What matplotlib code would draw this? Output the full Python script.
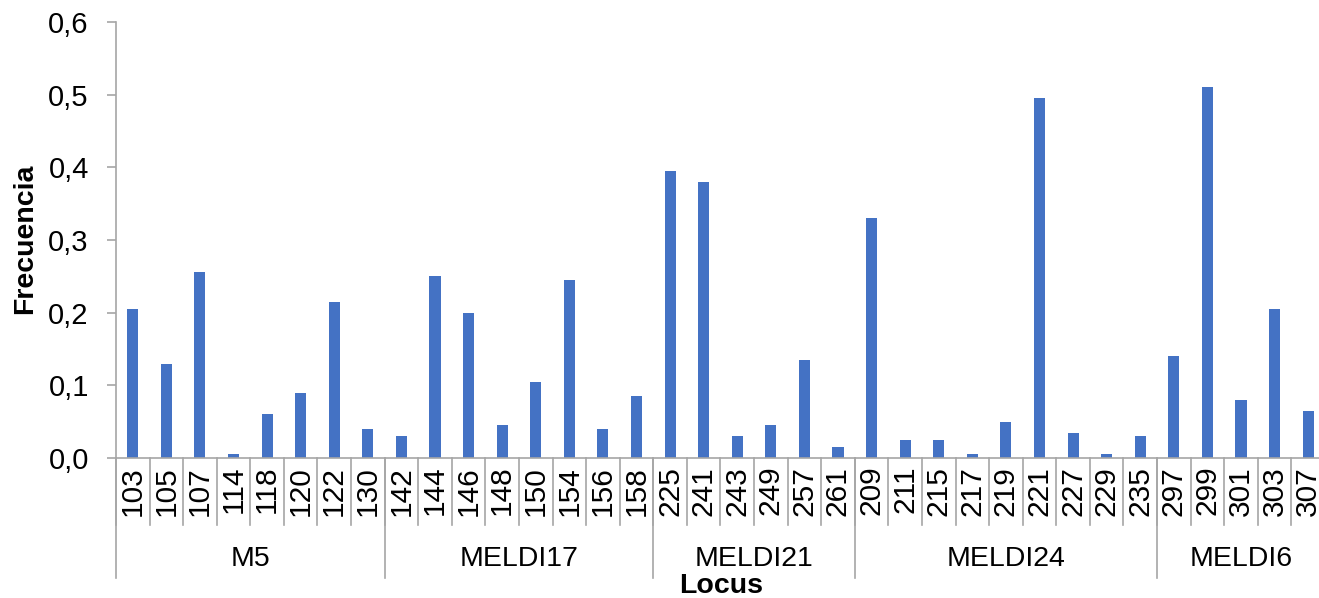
import numpy as np
import matplotlib; matplotlib.use("Agg")
import matplotlib.pyplot as plt
from matplotlib.transforms import blended_transform_factory

plt.rcParams['font.family'] = ['Liberation Sans', 'DejaVu Sans']

groups = ['M5', 'MELDI17', 'MELDI21', 'MELDI24', 'MELDI6']
alleles = [
    ['103', '105', '107', '114', '118', '120', '122', '130'],
    ['142', '144', '146', '148', '150', '154', '156', '158'],
    ['225', '241', '243', '249', '257', '261'],
    ['209', '211', '215', '217', '219', '221', '227', '229', '235'],
    ['297', '299', '301', '303', '307'],
]
freqs = [
    [0.205, 0.13, 0.256, 0.005, 0.06, 0.09, 0.215, 0.04],
    [0.03, 0.25, 0.20, 0.045, 0.105, 0.245, 0.04, 0.085],
    [0.395, 0.38, 0.03, 0.045, 0.135, 0.015],
    [0.33, 0.025, 0.025, 0.005, 0.05, 0.495, 0.035, 0.005, 0.03],
    [0.14, 0.51, 0.08, 0.205, 0.065],
]

labels = [a for g in alleles for a in g]
values = [v for g in freqs for v in g]
x = np.arange(len(labels))

GRAY = '#A6A6A6'
fig = plt.figure(figsize=(13.19, 5.98), dpi=100)
ax = fig.add_axes([0.0879, 0.2341, 0.9166, 0.7291])
ax.bar(x, values, width=0.33, color='#4472C4')
ax.set_xlim(-0.5, len(labels) - 0.5)
ax.set_ylim(0, 0.6)
ax.set_yticks(np.arange(0, 0.61, 0.1))
ax.set_yticklabels([f"{t:.1f}".replace('.', ',') for t in np.arange(0, 0.61, 0.1)], fontsize=21)
ax.tick_params(axis='y', length=6.5, color=GRAY, width=1.2, pad=13)
ax.set_xticks([])
for s in ('top', 'right'):
    ax.spines[s].set_visible(False)
for s in ('left', 'bottom'):
    ax.spines[s].set_color(GRAY)
    ax.spines[s].set_linewidth(1.2)

tr = blended_transform_factory(ax.transData, ax.transAxes)
# allele labels and short separators
for i, lab in enumerate(labels):
    ax.text(i, -0.018, lab, rotation=90, ha='center', va='top', fontsize=21.5, transform=tr)
    ax.plot([i - 0.5, i - 0.5], [0, -0.154], color=GRAY, lw=1.2, transform=tr, clip_on=False)
# group labels and long separators
start = 0
for g, al in zip(groups, alleles):
    ax.plot([start - 0.5, start - 0.5], [0, -0.275], color=GRAY, lw=1.2, transform=tr, clip_on=False)
    ax.text(start + (len(al) - 1) / 2, -0.232, g, ha='center', va='center', fontsize=20.5, transform=tr)
    start += len(al)
ax.plot([start - 0.5, start - 0.5], [0, -0.275], color=GRAY, lw=1.2, transform=tr, clip_on=False)

fig.text(0.547, 0.02, 'Locus', ha='center', va='center', fontsize=20.5, fontweight='bold')
fig.text(0.019, 0.6, 'Frecuencia', ha='center', va='center', rotation=90, fontsize=20.5, fontweight='bold')

fig.savefig('out.png', dpi=100)
